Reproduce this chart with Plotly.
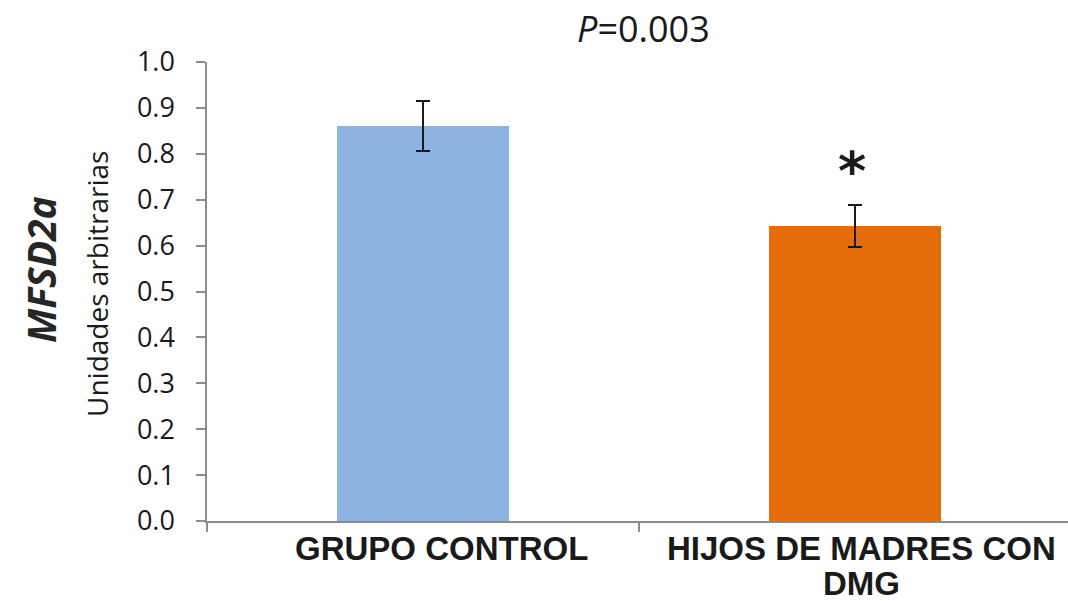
import plotly.graph_objects as go

# Data
groups = ["GRUPO CONTROL", "HIJOS DE MADRES CON DMG"]
label_lines = [["GRUPO CONTROL"], ["HIJOS DE MADRES CON", "DMG"]]
means = [0.86, 0.643]
errors = [0.054, 0.045]
colors = ["#8DB3E2", "#E46C0A"]
p_label = "<i>P</i>=0.003"
y_ticks = [0.0, 0.1, 0.2, 0.3, 0.4, 0.5, 0.6, 0.7, 0.8, 0.9, 1.0]

W, H = 1068, 601
ML, MT, MB, MR = 207, 62, 80, 0
plot_w = W - ML - MR
plot_h = H - MT - MB
cat_px = 432  # pixel width of one category slot

xpos = list(range(len(groups)))

fig = go.Figure()
fig.add_trace(go.Bar(
    x=xpos,
    y=means,
    width=0.40,
    marker=dict(color=colors, line=dict(width=0)),
    error_y=dict(type="data", array=errors, visible=True,
                 color="#1a1a1a", thickness=2, width=7),
    showlegend=False,
    hovertext=groups,
))

axis_grey = "#8c8c8c"

fig.update_layout(
    width=W, height=H,
    margin=dict(l=ML, r=MR, t=MT, b=MB, pad=0),
    paper_bgcolor="white",
    plot_bgcolor="white",
    bargap=0,
    xaxis=dict(
        range=[-0.5, -0.5 + plot_w / cat_px],
        tickvals=[-0.5, 0.5],
        ticktext=["", ""],
        ticks="outside", ticklen=9, tickwidth=1.5, tickcolor=axis_grey,
        showline=True, linecolor=axis_grey, linewidth=1.5,
        showgrid=False, zeroline=False, fixedrange=True,
    ),
    yaxis=dict(
        range=[0, 1.0],
        tickvals=y_ticks,
        tickformat=".1f",
        ticks="outside", ticklen=9, tickwidth=1.5, tickcolor=axis_grey,
        showline=True, linecolor=axis_grey, linewidth=1.5,
        showgrid=False, zeroline=False,
        tickfont=dict(family="Open Sans", size=27, color="#1a1a1a"),
        ticklabelstandoff=16,
    ),
    font=dict(family="Open Sans", color="#1a1a1a"),
)

annotations = [
    # p-value heading
    dict(text=p_label, xref="paper", yref="paper",
         x=(643 - ML) / plot_w, y=1 + (MT - 28) / plot_h,
         xanchor="center", yanchor="middle", showarrow=False,
         font=dict(family="Open Sans", size=36, color="#1a1a1a")),
    # y-axis title
    dict(text="Unidades arbitrarias", xref="paper", yref="paper",
         x=(97 - ML) / plot_w, y=(H - MB - 284) / plot_h,
         xanchor="center", yanchor="middle", textangle=-90, showarrow=False,
         font=dict(family="Open Sans", size=28, color="#1a1a1a")),
    # gene name
    dict(text="<b><i>MFSD2a</i></b>", xref="paper", yref="paper",
         x=(40 - ML) / plot_w, y=(H - MB - 270) / plot_h,
         xanchor="center", yanchor="middle", textangle=-90, showarrow=False,
         font=dict(family="Open Sans", size=39, color="#262626")),
    # significance marker above the second bar
    dict(text="<b>*</b>", xref="x", yref="y", x=1, y=means[1] + errors[1],
         yshift=34, xshift=-3, xanchor="center", yanchor="middle", showarrow=False,
         font=dict(family="DejaVu Sans", size=54, color="#1a1a1a")),
]

# category labels below the axis, one annotation per text line
label_shift = [18, 6]
line_gap = 35
for i, lines in enumerate(label_lines):
    for j, line in enumerate(lines):
        annotations.append(dict(
            text="<b>" + line + "</b>", xref="x", yref="paper", x=xpos[i], y=0,
            xshift=label_shift[i], yshift=-7 - j * line_gap,
            xanchor="center", yanchor="top", showarrow=False,
            font=dict(family="Liberation Sans", size=33, color="#1a1a1a"),
        ))

fig.update_layout(annotations=annotations)

fig.write_html("out.html")
